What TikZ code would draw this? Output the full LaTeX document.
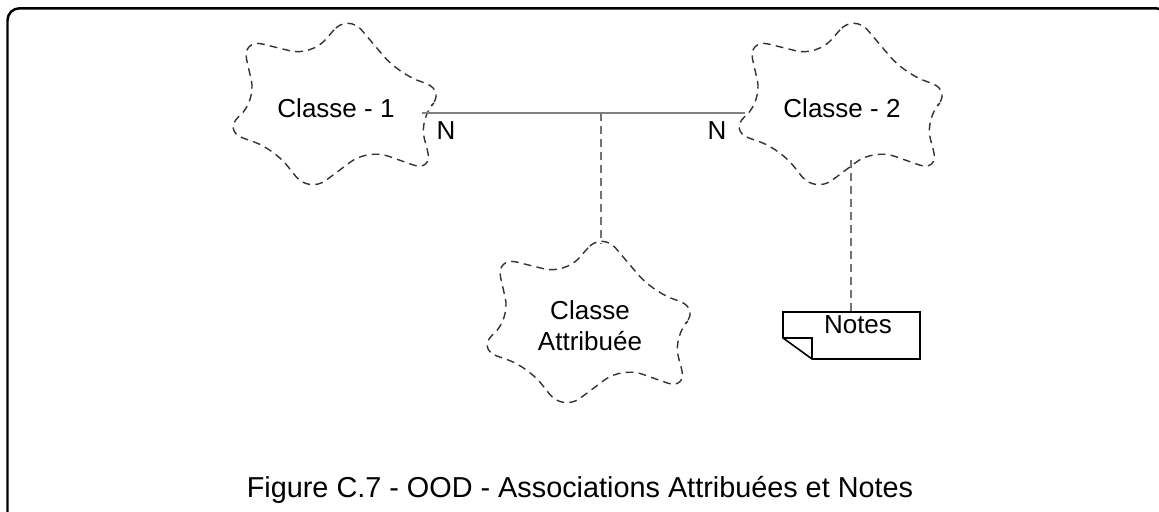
\documentclass[tikz,border=0pt]{standalone}
\usepackage{fontspec}
\setmainfont{Liberation Sans}
\usetikzlibrary{calc}

\begin{document}
\begin{tikzpicture}[
		nuage/.style={draw=black!80, dash pattern=on 2.2pt off 1.5pt, line width=0.4pt, rounded corners=6pt},
		lien/.style={draw=black!50, line width=0.5pt},
		lienpt/.style={draw=black!55, dash pattern=on 2.2pt off 1.5pt, line width=0.5pt},
		txt/.style={font=\fontsize{7.4}{8.9}\selectfont, align=center, inner sep=0pt}]
			\useasboundingbox (0,0) rectangle (11.59,5.12);
			\begin{scope}
				\clip (0,0) rectangle (11.59,5.12);
				\draw[line width=0.7pt, rounded corners=3.4pt] (0.075,-0.4) rectangle (11.68,5.037);%cadre
			\end{scope}
			
			\node[txt] (c1) at (3.36,4.04) {Classe - 1};
			\node[txt] (c2) at (8.42,4.04) {Classe - 2};
			\node[txt] (ca) at (5.90,1.86) {Classe\\Attribuée};
			\node[txt] (notes) at (8.58,1.87) {Notes};
			\foreach \c in {c1,c2,ca}{
				\draw[nuage, shift={(\c.center)}] (0.12,0.94) -- (-0.25,0.52) -- (-0.94,0.69) -- (-0.80,0.07) -- (-1.13,-0.23) -- (-0.62,-0.41) -- (-0.27,-0.85) -- (0.32,-0.41) -- (0.97,-0.64) -- (0.83,-0.10) -- (1.10,0.17) -- (0.62,0.35) -- cycle;}
			
			% association
			\coordinate (g) at (4.22,3.99);
			\coordinate (d) at (7.45,3.99);
			\coordinate (m) at (6.01,3.99);
			\coordinate (ha) at (6.01,2.68);
			\draw[lien] (g) -- (d);
			\draw[lienpt] (m) -- (ha);
			\node[txt] (n1) at (4.46,3.81) {N};
			\node[txt] (n2) at (7.17,3.81) {N};
			
			% note
			\coordinate (nh) at (8.51,2.00);
			\coordinate (b2) at (8.51,3.52);
			\draw[lienpt] (b2) -- (nh);
			\draw[line width=0.45pt] (7.83,2.00) -- (9.20,2.00) -- (9.20,1.53) -- (8.12,1.53) -- (7.83,1.74) -- cycle;
			\draw[line width=0.45pt] (7.83,1.74) -| (8.12,1.53);
			
			\node[font=\fontsize{8.2}{10}\selectfont] (titre) at (5.80,0.22) {Figure C.7 - OOD - Associations Attribuées et Notes};
			
		\end{tikzpicture}
\end{document}
